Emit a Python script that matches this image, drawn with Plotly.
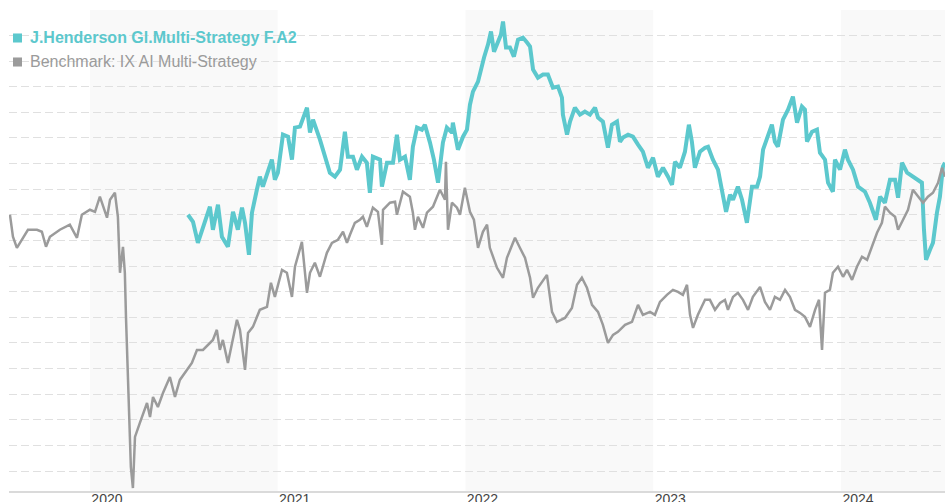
import plotly.graph_objects as go

# ---- data (decimal years, index level) ----
bench_t = [2019.574, 2019.590, 2019.611, 2019.638, 2019.670, 2019.718, 2019.744, 2019.766, 2019.787, 2019.840,
           2019.893, 2019.931, 2019.957, 2020.000, 2020.027, 2020.053, 2020.091, 2020.107, 2020.133, 2020.149,
           2020.160, 2020.176, 2020.186, 2020.192, 2020.202, 2020.218, 2020.229, 2020.240, 2020.266, 2020.304,
           2020.320, 2020.336, 2020.362, 2020.389, 2020.426, 2020.453, 2020.479, 2020.517, 2020.543, 2020.570,
           2020.602, 2020.655, 2020.676, 2020.692, 2020.708, 2020.735, 2020.762, 2020.783, 2020.799, 2020.826,
           2020.842, 2020.868, 2020.905, 2020.943, 2020.964, 2020.985, 2021.023, 2021.049, 2021.076, 2021.092,
           2021.129, 2021.156, 2021.172, 2021.198, 2021.225, 2021.262, 2021.289, 2021.321, 2021.348, 2021.369,
           2021.385, 2021.411, 2021.438, 2021.454, 2021.475, 2021.507, 2021.534, 2021.555, 2021.561, 2021.598,
           2021.625, 2021.635, 2021.667, 2021.704, 2021.720, 2021.731, 2021.747, 2021.774, 2021.795, 2021.827,
           2021.864, 2021.891, 2021.896, 2021.907, 2021.928, 2021.955, 2021.971, 2021.997, 2022.024, 2022.045,
           2022.067, 2022.093, 2022.115, 2022.130, 2022.168, 2022.200, 2022.221, 2022.264, 2022.290, 2022.317,
           2022.344, 2022.360, 2022.386, 2022.434, 2022.461, 2022.487, 2022.530, 2022.567, 2022.594, 2022.620,
           2022.647, 2022.674, 2022.706, 2022.732, 2022.759, 2022.786, 2022.812, 2022.850, 2022.887, 2022.919,
           2022.945, 2022.983, 2023.009, 2023.036, 2023.073, 2023.105, 2023.132, 2023.158, 2023.180, 2023.196,
           2023.212, 2023.238, 2023.276, 2023.302, 2023.329, 2023.356, 2023.382, 2023.398, 2023.425, 2023.451,
           2023.478, 2023.505, 2023.531, 2023.569, 2023.595, 2023.622, 2023.648, 2023.675, 2023.702, 2023.728,
           2023.755, 2023.782, 2023.808, 2023.835, 2023.862, 2023.883, 2023.899, 2023.915, 2023.941, 2023.957,
           2023.984, 2024.011, 2024.032, 2024.059, 2024.085, 2024.112, 2024.139, 2024.165, 2024.192, 2024.218,
           2024.234, 2024.261, 2024.288, 2024.304, 2024.330, 2024.357, 2024.383, 2024.410, 2024.437, 2024.463,
           2024.490, 2024.517, 2024.538, 2024.554]
bench_v = [100.00, 98.28, 97.42, 98.05, 98.83, 98.83, 98.67, 97.50, 98.28, 98.83,
           99.22, 98.20, 100.00, 100.39, 100.23, 101.41, 99.77, 101.17, 101.72, 99.84,
           95.47, 97.50, 95.47, 92.03, 86.87, 80.31, 78.67, 82.66, 83.75, 85.31,
           84.22, 85.78, 85.00, 86.09, 87.34, 85.78, 87.11, 87.89, 88.44, 89.45,
           89.45, 90.23, 91.02, 89.45, 90.23, 88.44, 90.47, 91.80, 91.02, 87.89,
           90.78, 91.25, 92.58, 92.81, 94.69, 93.59, 95.70, 95.47, 93.59, 95.94,
           97.89, 93.91, 95.47, 96.25, 95.16, 97.03, 97.81, 98.05, 98.67, 97.81,
           98.44, 99.37, 99.61, 99.84, 99.06, 100.55, 100.23, 97.66, 100.39, 100.94,
           101.02, 100.00, 101.80, 101.41, 100.16, 98.83, 99.84, 98.98, 100.16, 100.63,
           101.95, 101.17, 104.14, 98.83, 100.94, 100.55, 100.00, 102.11, 100.23, 99.61,
           97.42, 98.67, 99.22, 97.42, 95.86, 95.08, 96.64, 98.20, 97.42, 96.64,
           95.08, 93.52, 94.30, 95.31, 92.42, 91.64, 91.95, 92.73, 94.53, 95.08,
           94.30, 92.97, 92.42, 91.41, 90.00, 90.62, 90.86, 91.41, 91.64, 92.97,
           92.19, 92.42, 92.19, 93.20, 93.75, 94.14, 93.98, 93.75, 94.53, 92.19,
           91.17, 92.19, 93.36, 93.36, 92.58, 93.12, 93.36, 92.58, 93.59, 93.91,
           93.36, 92.58, 93.59, 94.37, 93.20, 92.58, 93.59, 93.36, 94.14, 93.59,
           92.58, 92.34, 92.03, 91.25, 92.58, 93.36, 89.45, 93.91, 94.14, 95.47,
           95.94, 95.16, 95.70, 94.92, 95.94, 96.72, 96.48, 97.50, 98.59, 99.37,
           100.63, 100.16, 99.84, 98.83, 99.61, 100.39, 101.95, 101.41, 100.94, 101.41,
           101.72, 102.50, 103.67, 102.97]

fund_t = [2020.522, 2020.549, 2020.575, 2020.613, 2020.639, 2020.655, 2020.682, 2020.703, 2020.735, 2020.762,
          2020.788, 2020.810, 2020.826, 2020.847, 2020.863, 2020.889, 2020.905, 2020.921, 2020.948, 2020.969,
          2020.985, 2021.001, 2021.028, 2021.055, 2021.076, 2021.092, 2021.119, 2021.134, 2021.156, 2021.172,
          2021.188, 2021.225, 2021.262, 2021.278, 2021.305, 2021.332, 2021.358, 2021.374, 2021.401, 2021.422,
          2021.449, 2021.475, 2021.491, 2021.507, 2021.545, 2021.555, 2021.582, 2021.614, 2021.635, 2021.651,
          2021.678, 2021.704, 2021.720, 2021.742, 2021.768, 2021.784, 2021.811, 2021.832, 2021.854, 2021.880,
          2021.901, 2021.928, 2021.933, 2021.960, 2021.987, 2022.008, 2022.024, 2022.040, 2022.067, 2022.088,
          2022.099, 2022.120, 2022.136, 2022.152, 2022.173, 2022.189, 2022.200, 2022.216, 2022.237, 2022.258,
          2022.280, 2022.306, 2022.328, 2022.344, 2022.360, 2022.386, 2022.413, 2022.439, 2022.466, 2022.493,
          2022.514, 2022.519, 2022.541, 2022.557, 2022.583, 2022.610, 2022.636, 2022.663, 2022.690, 2022.706,
          2022.732, 2022.759, 2022.780, 2022.807, 2022.823, 2022.839, 2022.866, 2022.892, 2022.919, 2022.945,
          2022.972, 2022.999, 2023.025, 2023.052, 2023.079, 2023.100, 2023.116, 2023.142, 2023.169, 2023.190,
          2023.206, 2023.222, 2023.249, 2023.276, 2023.292, 2023.318, 2023.345, 2023.366, 2023.388, 2023.409,
          2023.425, 2023.451, 2023.473, 2023.499, 2023.526, 2023.553, 2023.569, 2023.585, 2023.611, 2023.632,
          2023.648, 2023.664, 2023.691, 2023.718, 2023.744, 2023.766, 2023.792, 2023.808, 2023.819, 2023.846,
          2023.872, 2023.888, 2023.915, 2023.931, 2023.957, 2023.968, 2023.995, 2024.021, 2024.037, 2024.064,
          2024.091, 2024.128, 2024.154, 2024.186, 2024.208, 2024.234, 2024.261, 2024.288, 2024.304, 2024.325,
          2024.352, 2024.383, 2024.410, 2024.431, 2024.442, 2024.453, 2024.474, 2024.490, 2024.511, 2024.527,
          2024.543, 2024.554]
fund_v = [100.00, 99.45, 97.81, 99.37, 100.63, 98.83, 100.78, 98.28, 97.50, 100.23,
          98.83, 100.55, 99.37, 96.87, 100.16, 101.95, 102.97, 102.19, 103.28, 104.30,
          102.73, 103.28, 106.25, 106.09, 104.30, 106.80, 106.88, 107.42, 108.36, 106.41,
          107.42, 105.86, 104.06, 103.28, 102.97, 103.52, 106.48, 104.53, 104.53, 103.52,
          104.53, 104.06, 101.72, 104.53, 104.30, 102.19, 104.06, 104.06, 106.25, 104.30,
          104.53, 102.73, 105.31, 106.80, 106.64, 107.03, 105.63, 104.30, 102.50, 105.63,
          106.80, 106.41, 107.19, 105.08, 106.09, 106.64, 108.59, 109.61, 110.39, 111.72,
          112.27, 113.28, 114.30, 112.73, 113.52, 114.06, 115.08, 113.05, 113.05, 112.34,
          113.67, 113.83, 113.44, 113.13, 111.33, 110.70, 110.94, 110.94, 109.92, 110.00,
          109.14, 107.81, 106.25, 107.27, 108.36, 107.81, 108.05, 107.81, 108.36, 107.58,
          107.27, 105.23, 107.03, 107.27, 105.70, 106.02, 106.25, 106.09, 105.47, 104.92,
          103.67, 104.45, 102.97, 103.67, 102.97, 102.34, 104.14, 103.67, 104.92, 107.03,
          105.70, 103.67, 104.92, 105.23, 105.31, 104.30, 103.52, 101.95, 100.23, 101.56,
          101.17, 102.19, 101.17, 99.37, 102.19, 102.19, 102.97, 105.08, 106.09, 107.03,
          105.70, 105.31, 107.42, 108.20, 109.22, 107.19, 108.44, 108.20, 105.70, 106.48,
          106.64, 104.84, 104.30, 102.50, 101.80, 104.30, 103.52, 105.08, 104.30, 103.52,
          102.19, 101.80, 100.94, 99.61, 101.41, 100.94, 102.73, 102.73, 101.33, 104.06,
          103.28, 102.97, 102.73, 102.50, 98.83, 96.48, 97.27, 97.81, 100.16, 101.41,
          103.75, 104.06]

years = [2020, 2021, 2022, 2023, 2024]
year_labels = ["2020", "2021", "2022", "2023", "2024"]
shaded_years = [2020, 2022, 2024]
x_start, x_end = 2019.569, 2024.554

fund_name = "J.Henderson Gl.Multi-Strategy F.A2"
bench_name = "Benchmark: IX AI Multi-Strategy"

TEAL = "#5cc8cd"
GREY = "#9b9b9b"
FONT = "Liberation Sans, Arial, sans-serif"

fig = go.Figure()

fig.add_trace(go.Scatter(x=fund_t, y=fund_v, mode="lines", showlegend=False,
                         line=dict(color=TEAL, width=4), name=fund_name))
fig.add_trace(go.Scatter(x=bench_t, y=bench_v, mode="lines", showlegend=False,
                         line=dict(color=GREY, width=2.5), name=bench_name))

shapes = []
for yr in shaded_years:
    shapes.append(dict(type="rect", xref="x", yref="paper", x0=yr, x1=min(yr + 1, x_end),
                       y0=0, y1=1, fillcolor="#f9f9f9", line=dict(width=0), layer="below"))

# legend (top-left): square swatches + labels
legend_items = [(fund_name, TEAL, True, 0.9418), (bench_name, GREY, False, 0.8919)]
annotations = []
for text, col, bold, yc in legend_items:
    shapes.append(dict(type="rect", xref="paper", yref="paper",
                       x0=0.0043, x1=0.0139, y0=yc - 0.0094, y1=yc + 0.0094,
                       fillcolor=col, line=dict(width=0), layer="above"))
    annotations.append(dict(xref="paper", yref="paper", x=0.0205, y=yc,
                            xanchor="left", yanchor="middle", showarrow=False,
                            text=f"<b>{text}</b>" if bold else text,
                            font=dict(family=FONT, size=16, color=col)))

fig.update_layout(
    width=945, height=502,
    margin=dict(l=9, r=0, t=10, b=11),
    paper_bgcolor="white", plot_bgcolor="white",
    font=dict(family=FONT, size=14, color="#444"),
    shapes=shapes, annotations=annotations,
    showlegend=False,
    xaxis=dict(range=[x_start, x_end], tickvals=years, ticktext=year_labels,
               showgrid=False, zeroline=False, showline=True, linecolor="#dadada", linewidth=2,
               ticks="", ticklabelshift=17, ticklabelstandoff=-6, automargin=False,
               tickfont=dict(size=14, color="#444")),
    yaxis=dict(range=[78.44, 115.98], dtick=2, tick0=0, showticklabels=False,
               showgrid=True, gridcolor="#e0e0e0", gridwidth=1, griddash="8px,4px",
               zeroline=False, showline=False, ticks="", automargin=False),
)

fig.write_html("out.html", config={"displayModeBar": False},
               post_script="document.body.style.margin='0px';document.body.style.overflow='hidden';")
